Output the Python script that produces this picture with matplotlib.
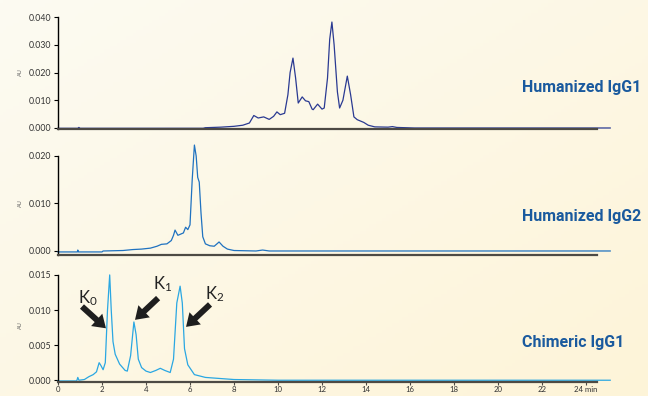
import numpy as np
import matplotlib
matplotlib.use('Agg')
import matplotlib.pyplot as plt

plt.rcParams['mathtext.default'] = 'regular'

# Humanized IgG1 trace (time in min, absorbance in AU)
t_igg1 = [0, 0.9, 0.95, 1.0, 6.6, 6.7, 7.4, 8.0, 8.4, 8.7, 8.9, 9.1, 9.35, 9.6, 9.8,
          9.95, 10.1, 10.3, 10.45, 10.55, 10.68, 10.8, 10.92, 11.1, 11.25, 11.4,
          11.55, 11.6, 11.8, 12.0, 12.1, 12.25, 12.35, 12.45, 12.55, 12.7, 12.8,
          12.95, 13.15, 13.3, 13.45, 13.6, 13.9, 14.1, 14.4, 15.0, 15.2, 15.4,
          16.2, 25.1]
au_igg1 = [-0.0001, -0.0001, 0.0002, -0.0001, -0.0001, 0.0001, 0.0003, 0.0006,
           0.0010, 0.0018, 0.0045, 0.0036, 0.0040, 0.0031, 0.0042, 0.0058, 0.0048,
           0.0053, 0.0120, 0.0200, 0.0252, 0.0180, 0.0090, 0.0112, 0.0098, 0.0095,
           0.0068, 0.0066, 0.0086, 0.0068, 0.0072, 0.0180, 0.0320, 0.0382, 0.0300,
           0.0130, 0.0072, 0.0100, 0.0187, 0.0120, 0.0040, 0.0030, 0.0020, 0.0010,
           0.0004, 0.0003, 0.0005, 0.0002, 0.0, 0.0]

# Humanized IgG2 trace
t_igg2 = [0, 0.88, 0.9, 0.93, 2.0, 2.05, 2.95, 3.4, 3.8, 4.2, 4.5, 4.7, 4.95, 5.15,
          5.25, 5.32, 5.45, 5.55, 5.7, 5.8, 5.9, 6.0, 6.1, 6.2, 6.28, 6.35, 6.42,
          6.5, 6.58, 6.7, 6.9, 7.1, 7.25, 7.32, 7.5, 7.7, 8.0, 9.0, 9.3, 9.6, 25.1]
au_igg2 = [-0.0002, -0.0002, 0.0002, -0.0002, -0.0002, 0.0, 0.0001, 0.0003,
           0.0004, 0.0006, 0.0010, 0.0014, 0.0015, 0.0022, 0.0033, 0.0044, 0.0033,
           0.0035, 0.0038, 0.0050, 0.0045, 0.0055, 0.0150, 0.0223, 0.0200, 0.0155,
           0.0145, 0.0080, 0.0030, 0.0015, 0.0011, 0.0010, 0.0016, 0.0019, 0.0010,
           0.0004, 0.0001, 0.0, 0.0002, 0.0, 0.0]

# Chimeric IgG1 trace
t_chim = [0, 0.85, 0.9, 0.95, 1.2, 1.4, 1.6, 1.75, 1.87, 1.95, 2.05, 2.15, 2.25,
          2.35, 2.42, 2.5, 2.6, 2.8, 3.05, 3.15, 3.3, 3.45, 3.55, 3.65, 3.8, 4.0,
          4.2, 4.45, 4.65, 4.85, 5.1, 5.25, 5.4, 5.55, 5.65, 5.75, 5.9, 6.2, 6.7,
          8.0, 10.0, 25.1]
au_chim = [-0.0001, -0.0001, 0.0004, 0.0, 0.0001, 0.0005, 0.0008, 0.0012, 0.0025,
           0.0021, 0.0015, 0.0025, 0.0100, 0.0150, 0.0100, 0.0055, 0.0037, 0.0023,
           0.0014, 0.0013, 0.0035, 0.0083, 0.0065, 0.0030, 0.0018, 0.0013, 0.0011,
           0.0014, 0.0017, 0.0014, 0.0011, 0.0030, 0.0110, 0.0134, 0.0110, 0.0045,
           0.0022, 0.0008, 0.0004, 0.0001, 0.0, 0.0]

names = ['Humanized IgG1', 'Humanized IgG2', 'Chimeric IgG1']
yticks = [[0.0, 0.010, 0.020, 0.030, 0.040],
          [0.0, 0.010, 0.020],
          [0.0, 0.005, 0.010, 0.015]]
xticks = [0, 2, 4, 6, 8, 10, 12, 14, 16, 18, 20, 22, 24]
xtick_labels = ['0', '2', '4', '6', '8', '10', '12', '14', '16', '18', '20', '22', '24 min']

# charge variant annotations: label, label pos, arrow tail, arrow tip
k_labels = ['K$_0$', 'K$_1$', 'K$_2$']
k_text = [(0.91, 0.0110), (4.32, 0.0129), (6.68, 0.01146)]
k_tail = [(1.09, 0.0105), (4.55, 0.0117), (6.91, 0.0108)]
k_tip = [(2.18, 0.0074), (3.50, 0.0086), (5.82, 0.0076)]

fig = plt.figure(figsize=(6.48, 3.96), dpi=100)

# soft cream gradient background
bg = fig.add_axes([0, 0, 1, 1], zorder=-10)
gx, gy = np.meshgrid(np.linspace(0, 1, 200), np.linspace(0, 1, 120))
g = np.clip((gx + gy) / 2, 0, 1)
c0 = np.array([252, 251, 242]) / 255
c1 = np.array([254, 244, 216]) / 255
img = c0[None, None, :] * (1 - g[..., None]) + c1[None, None, :] * g[..., None]
bg.imshow(img, aspect='auto', extent=[0, 1, 0, 1], origin='upper')
bg.axis('off')

# axes boxes in figure fractions (left, bottom, width, height) and y limits
boxes = [[0.0895, 0.674, 0.8556, 0.290],
         [0.0895, 0.3566, 0.8556, 0.2795],
         [0.0895, 0.0345, 0.8556, 0.2801]]
ylims = [(-0.0004, 0.041), (-0.0008, 0.0225), (-0.0003, 0.0155)]
colors = ['#2a3a92', '#1f72c0', '#2aa7e2']
traces = [(t_igg1, au_igg1), (t_igg2, au_igg2), (t_chim, au_chim)]
label_y = [0.780, 0.4545, 0.134]
au_y = [0.818, 0.487, 0.18]

for i in range(3):
    ax = fig.add_axes(boxes[i])
    ax.patch.set_alpha(0)
    t, a = traces[i]
    ax.plot(t, a, color=colors[i], lw=0.9, clip_on=False)
    ax.set_xlim(0, 25.2)
    ax.set_ylim(*ylims[i])
    for s in ['top', 'right']:
        ax.spines[s].set_visible(False)
    ax.spines['left'].set_bounds(ylims[i][0], yticks[i][-1])
    ax.spines['left'].set_linewidth(1.0)
    ax.spines['bottom'].set_bounds(0, 24.5)
    ax.spines['bottom'].set_color('#4d4a44')
    ax.spines['bottom'].set_linewidth(1.6)
    ax.set_yticks(yticks[i])
    ax.set_yticklabels(['%.3f' % v for v in yticks[i]], family='Lato', fontsize=6.3, color='#333333')
    ax.tick_params(axis='y', length=3, width=0.8, pad=2)
    if i < 2:
        ax.set_xticks([])
    else:
        ax.set_xticks(xticks)
        ax.set_xticklabels(xtick_labels, family='Lato', fontsize=5.6, color='#333333')
        ax.tick_params(axis='x', length=2.5, width=0.8, pad=0.3, color='#4d4a44')
    fig.text(0.806, label_y[i], names[i], family='Roboto', fontweight='bold',
             fontsize=11.5, color='#1a5a9e', va='center', ha='left')
    fig.text(0.031, au_y[i], 'AU', rotation=90, fontsize=4, color='#666666',
             family='Lato', va='center', ha='center')

# arrows on the chimeric panel
for lab, tp, tl, tip in zip(k_labels, k_text, k_tail, k_tip):
    ax.text(tp[0], tp[1], lab, family='Lato', fontsize=12, color='#222222',
            va='baseline', ha='left')
    ax.annotate('', xy=tip, xytext=tl,
                arrowprops=dict(facecolor='#1e1e1e', edgecolor='none', width=4.3,
                                headwidth=12, headlength=9, shrink=0))

fig.savefig('out.png', dpi=100)
